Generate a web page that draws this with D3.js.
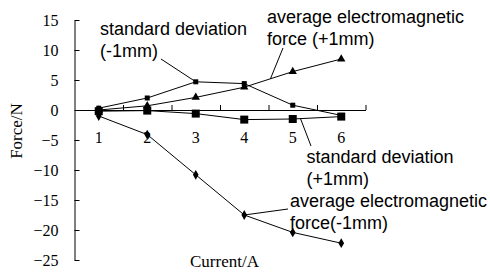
<!DOCTYPE html>
<html>
<head>
<meta charset="utf-8">
<script src="https://cdn.jsdelivr.net/npm/d3@7"></script>
<style>
  body { margin: 0; background: #fff; }
  svg { display: block; }
</style>
</head>
<body>
<svg id="chart" width="490" height="272"></svg>
<script>
const currents = ['1', '2', '3', '4', '5', '6']
const sdMinus = [0.3, 2.0, 4.7, 4.4, 0.8, -0.9]
const sdPlus = [-0.2, -0.1, -0.6, -1.6, -1.5, -1.1]
const avgPlus = [0.0, 0.7, 2.1, 3.8, 6.4, 8.5]
const avgMinus = [-1.0, -4.1, -10.8, -17.5, -20.4, -22.2]
const yTicks = [15, 10, 5, 0, -5, -10, -15, -20, -25]

const svg = d3.select('#chart')

const x = d3.scaleBand().domain(currents).range([74.5, 365.5])
const xEdge = d3.scaleLinear().domain([0, currents.length]).range(x.range())
const y = d3.scaleLinear().domain([-25, 15]).range([260, 20])
const cx = i => x(currents[i]) + x.bandwidth() / 2

const serif = '"Liberation Serif", "Times New Roman", serif'
const sans = '"Liberation Sans", Arial, sans-serif'

// y axis, ticks pointing inward
const yAxis = svg.append('g')
  .attr('transform', 'translate(74.5,0)')
  .call(d3.axisLeft(y).tickValues(yTicks).tickSizeInner(-5).tickSizeOuter(0).tickPadding(16))
yAxis.selectAll('text').style('font-family', serif).style('font-size', '16px').attr('fill', '#000')

// x axis on the zero line, ticks at band edges pointing up
svg.append('g')
  .attr('transform', `translate(0,${y(0)})`)
  .call(d3.axisBottom(xEdge).ticks(currents.length).tickSize(-5).tickSizeOuter(0).tickFormat(''))
  .selectAll('.tick').filter(d => d === 0).remove()

const xLabels = svg.append('g')
  .attr('transform', `translate(0,${y(0)})`)
  .call(d3.axisBottom(x).tickSize(0).tickPadding(22))
xLabels.select('.domain').remove()
xLabels.selectAll('text').style('font-family', serif).style('font-size', '16px').attr('fill', '#000')

svg.selectAll('.domain, .tick line').attr('stroke', '#000')

svg.append('text')
  .attr('transform', 'translate(21.5,131) rotate(-90)')
  .attr('text-anchor', 'middle')
  .style('font-family', serif).style('font-size', '17px')
  .text('Force/N')

svg.append('text')
  .attr('x', 224.5).attr('y', 267)
  .attr('text-anchor', 'middle')
  .style('font-family', serif).style('font-size', '17px')
  .text('Current/A')

// series
const series = [
  { values: sdMinus, symbol: d3.symbolSquare, size: 25 },
  { values: sdPlus, symbol: d3.symbolSquare, size: 64 },
  { values: avgPlus, symbol: d3.symbolTriangle, size: 30 },
  { values: avgMinus, symbol: d3.symbolDiamond, size: 28 }
]

const line = d3.line().x((d, i) => cx(i)).y(d => y(d))

series.forEach(s => {
  const g = svg.append('g')
  g.append('path')
    .attr('d', line(s.values))
    .attr('fill', 'none')
    .attr('stroke', '#000')
    .attr('stroke-width', 1)
  g.selectAll('path.pt')
    .data(s.values)
    .join('path')
    .attr('class', 'pt')
    .attr('transform', (d, i) => `translate(${cx(i)},${y(d)})`)
    .attr('d', d3.symbol(s.symbol, s.size))
    .attr('fill', '#000')
})

// point on a series between index i and i+1
const along = (vals, i, t) => [
  cx(i) + (cx(i + 1) - cx(i)) * t,
  y(vals[i] + (vals[i + 1] - vals[i]) * t)
]

const notes = [
  { lines: ['standard deviation', '(-1mm)'], x: 100, y: 35, from: [161, 59], to: along(sdMinus, 2, 0) },
  { lines: ['average electromagnetic', 'force (+1mm)'], x: 267, y: 23, from: [283, 48], to: along(avgPlus, 3, 0.54) },
  { lines: ['standard deviation', '(+1mm)'], x: 306.5, y: 163, from: [311, 146], to: along(sdPlus, 4, 0.16) },
  { lines: ['average electromagnetic', 'force(-1mm)'], x: 290, y: 207, from: [288, 209], to: along(avgMinus, 3, 0) }
]

notes.forEach(n => {
  svg.append('line')
    .attr('x1', n.from[0]).attr('y1', n.from[1])
    .attr('x2', n.to[0]).attr('y2', n.to[1])
    .attr('stroke', '#000')
    .attr('stroke-width', 1)
  svg.append('text')
    .style('font-family', sans).style('font-size', '18px')
    .selectAll('tspan')
    .data(n.lines)
    .join('tspan')
    .attr('x', n.x)
    .attr('y', (d, i) => n.y + i * 22)
    .text(d => d)
})
</script>
</body>
</html>
